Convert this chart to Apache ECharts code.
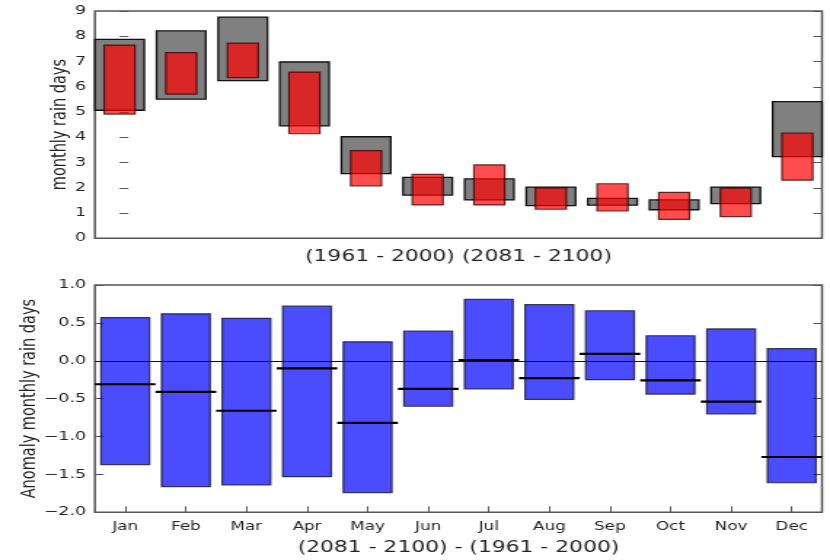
<!DOCTYPE html>
<html>
<head>
<meta charset="utf-8">
<script src="https://cdn.jsdelivr.net/npm/echarts@6/dist/echarts.min.js"></script>
<style>
  html, body { margin: 0; padding: 0; background: #ffffff; overflow: hidden; }
  #chart { width: 570px; height: 560px; transform: scaleX(1.45614); transform-origin: 0 0; }
</style>
</head>
<body>
<div id="chart"></div>
<script>
// Month labels
const months = ['Jan', 'Feb', 'Mar', 'Apr', 'May', 'Jun', 'Jul', 'Aug', 'Sep', 'Oct', 'Nov', 'Dec'];

// Monthly rain days, 1961-2000 range (low / high)
const histLow  = [5.07, 5.51, 6.24, 4.45, 2.56, 1.71, 1.52, 1.29, 1.31, 1.13, 1.37, 3.23];
const histHigh = [7.88, 8.21, 8.76, 6.98, 4.02, 2.41, 2.35, 2.03, 1.58, 1.52, 2.03, 5.41];

// Monthly rain days, 2081-2100 range (low / high)
const futLow  = [4.92, 5.71, 6.36, 4.14, 2.07, 1.32, 1.32, 1.15, 1.08, 0.75, 0.86, 2.30];
const futHigh = [7.65, 7.35, 7.73, 6.58, 3.47, 2.53, 2.91, 2.00, 2.16, 1.82, 1.99, 4.17];

// Anomaly (2081-2100 minus 1961-2000): range and mean
const anomLow  = [-1.37, -1.66, -1.64, -1.53, -1.74, -0.60, -0.37, -0.51, -0.25, -0.44, -0.70, -1.61];
const anomHigh = [0.57, 0.62, 0.56, 0.72, 0.25, 0.39, 0.81, 0.74, 0.66, 0.33, 0.42, 0.16];
const anomMean = [-0.31, -0.41, -0.66, -0.10, -0.82, -0.37, 0.01, -0.23, 0.09, -0.26, -0.54, -1.27];

const FONT = 'DejaVu Sans';
const TXT = '#222';
const FRAME = '#555';

function minusFmt(v) {
  return v.toFixed(1).replace('-', '\u2212');
}

// Box between low and high; width is a fraction of one x step
function boxRenderer(widthUnits, style) {
  return function (params, api) {
    const x = api.value(0);
    const top = api.coord([x, api.value(2)]);
    const bot = api.coord([x, api.value(1)]);
    const w = api.size([1, 0])[0] * widthUnits;
    return {
      type: 'rect',
      shape: { x: top[0] - w / 2, y: top[1], width: w, height: bot[1] - top[1] },
      style: style
    };
  };
}

const histData = months.map((m, i) => [i, histLow[i], histHigh[i]]);
const futData = months.map((m, i) => [i, futLow[i], futHigh[i]]);
const anomData = months.map((m, i) => [i, anomLow[i], anomHigh[i]]);
const meanData = months.map((m, i) => [i, anomMean[i]]);

const yTickStyle = { show: true, inside: true, length: 6, lineStyle: { color: FRAME, width: 1 } };

const chart = echarts.init(document.getElementById('chart'), null, { renderer: 'canvas' });

chart.setOption({
  animation: false,
  backgroundColor: '#ffffff',
  textStyle: { fontFamily: FONT },
  grid: [
    { left: 65.2, right: 5.5, top: 11, height: 227.3, show: true, borderColor: FRAME, borderWidth: 1.5, backgroundColor: 'transparent' },
    { left: 65.2, right: 5.5, top: 285, height: 227.3, show: true, borderColor: FRAME, borderWidth: 1.5, backgroundColor: 'transparent' }
  ],
  xAxis: [
    {
      gridIndex: 0, type: 'value', min: -0.4, max: 11.4,
      axisLine: { show: false, onZero: false }, axisTick: { show: false }, axisLabel: { show: false }, splitLine: { show: false },
      name: '(1961 - 2000) (2081 - 2100)', nameLocation: 'middle', nameGap: 11,
      nameTextStyle: { fontFamily: FONT, fontSize: 15, color: TXT, verticalAlign: 'top' }
    },
    {
      gridIndex: 1, type: 'category', data: months, boundaryGap: true,
      axisLine: { show: false, onZero: false },
      axisTick: { show: true, inside: true, length: 6, alignWithLabel: true, lineStyle: { color: FRAME, width: 1 } },
      axisLabel: { fontFamily: FONT, fontSize: 11.5, color: TXT, margin: 9 },
      splitLine: { show: false },
      name: '(2081 - 2100) - (1961 - 2000)', nameLocation: 'middle', nameGap: 28,
      nameTextStyle: { fontFamily: FONT, fontSize: 15, color: TXT, verticalAlign: 'top' }
    }
  ],
  yAxis: [
    {
      gridIndex: 0, type: 'value', min: 0, max: 9, interval: 1, position: 'left',
      axisLine: { show: false }, axisTick: yTickStyle, splitLine: { show: false },
      axisLabel: { fontFamily: FONT, fontSize: 12, color: TXT, margin: 6 },
      name: 'monthly rain days', nameLocation: 'middle', nameGap: 16.5, nameRotate: 90, nameMoveOverlap: false,
      nameTextStyle: { fontFamily: FONT, fontSize: 14.5, color: TXT }
    },
    {
      gridIndex: 0, type: 'value', min: 0, max: 9, interval: 1, position: 'right',
      axisLine: { show: false }, axisTick: yTickStyle, axisLabel: { show: false }, splitLine: { show: false }
    },
    {
      gridIndex: 1, type: 'value', min: -2, max: 1, interval: 0.5, position: 'left',
      axisLine: { show: false }, axisTick: yTickStyle, splitLine: { show: false },
      axisLabel: { fontFamily: FONT, fontSize: 12, color: TXT, margin: 6, formatter: minusFmt },
      name: 'Anomaly monthly rain days', nameLocation: 'middle', nameGap: 37.5, nameRotate: 90, nameMoveOverlap: false,
      nameTextStyle: { fontFamily: FONT, fontSize: 14.5, color: TXT }
    },
    {
      gridIndex: 1, type: 'value', min: -2, max: 1, interval: 0.5, position: 'right',
      axisLine: { show: false }, axisTick: yTickStyle, axisLabel: { show: false }, splitLine: { show: false }
    }
  ],
  series: [
    {
      type: 'custom', xAxisIndex: 0, yAxisIndex: 0, z: 2,
      renderItem: boxRenderer(0.8, { fill: '#808080', stroke: '#111', lineWidth: 1.3 }),
      encode: { x: 0, y: [1, 2] },
      data: histData
    },
    {
      type: 'custom', xAxisIndex: 0, yAxisIndex: 0, z: 3,
      renderItem: boxRenderer(0.5, { fill: 'rgba(255,0,0,0.7)', stroke: 'rgba(40,0,0,0.75)', lineWidth: 1.2 }),
      encode: { x: 0, y: [1, 2] },
      data: futData
    },
    {
      type: 'custom', xAxisIndex: 1, yAxisIndex: 2, z: 2,
      renderItem: boxRenderer(0.8, { fill: 'rgba(0,0,255,0.7)', stroke: 'rgba(20,20,40,0.8)', lineWidth: 1.2 }),
      encode: { x: 0, y: [1, 2] },
      data: anomData,
      markLine: {
        silent: true, symbol: 'none', label: { show: false },
        lineStyle: { color: '#111', width: 1, type: 'solid' },
        data: [{ yAxis: 0 }]
      }
    },
    {
      type: 'custom', xAxisIndex: 1, yAxisIndex: 2, z: 4,
      renderItem: function (params, api) {
        const c = api.coord([api.value(0), api.value(1)]);
        const w = api.size([1, 0])[0];
        return {
          type: 'line',
          shape: { x1: c[0] - w / 2, y1: c[1], x2: c[0] + w / 2, y2: c[1] },
          style: { stroke: '#000', lineWidth: 2.2 }
        };
      },
      encode: { x: 0, y: 1 },
      data: meanData
    }
  ]
});
</script>
</body>
</html>
